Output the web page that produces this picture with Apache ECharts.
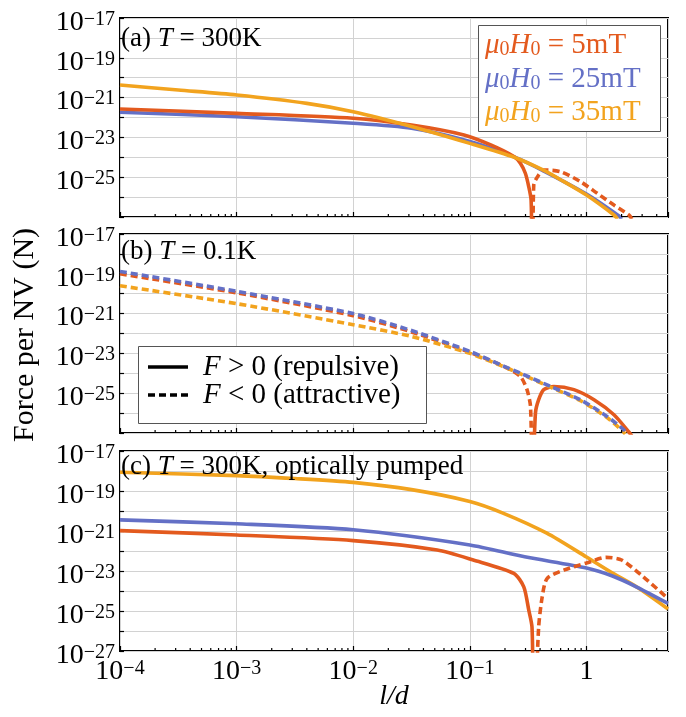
<!DOCTYPE html>
<html><head><meta charset="utf-8">
<script src="https://cdn.jsdelivr.net/npm/echarts@6/dist/echarts.min.js"></script>
<style>html,body{margin:0;padding:0;background:#fff}#c{width:686px;height:717px}#dbg{position:absolute;left:130px;top:140px;font:11px monospace;color:#c00;white-space:pre-wrap;width:540px}</style>
</head><body><div id="c"></div><div id="dbg"></div>
<script>
const dbg = [];
function log(s){ dbg.push(String(s)); document.getElementById('dbg').textContent = dbg.join('\n'); }
window.onerror = function(m, s, l, c){ log('ERR ' + m + ' ' + l + ':' + c); };

// ---------- data, x = l/d, y = force in N ----------
// Panel (a) T = 300K
const a_x_5mT = [1e-4, 1e-3, 1e-2, 0.0316, 0.089, 0.151, 0.24, 0.271, 0.299, 0.32, 0.335, 0.34];
const a_y_5mT = [2.69e-22, 1.62e-22, 9.1e-23, 4.17e-23, 1.32e-23, 4.17e-24, 1.07e-24, 5.0e-25, 1.58e-25, 3.3e-26, 7.1e-27, 1e-29];
const a_x_5mT_neg = [0.347, 0.353, 0.389, 0.43, 0.598, 0.887, 1.236, 1.72, 2.31, 2.45];
const a_y_5mT_neg = [1e-29, 4.07e-26, 1.29e-25, 2.29e-25, 1.9e-25, 6.0e-26, 1.55e-26, 3.98e-27, 1.26e-27, 7.9e-28];
const a_x_25mT = [1e-4, 1e-3, 1e-2, 0.0316, 0.1, 0.24, 0.427, 1, 1.9, 2.0];
const a_y_25mT = [1.82e-22, 1.1e-22, 5.13e-23, 2.88e-23, 6.3e-24, 1.05e-24, 2.09e-25, 1.41e-26, 1.12e-27, 7.9e-28];
const a_x_35mT = [1e-4, 3.16e-4, 1e-3, 4e-3, 1e-2, 0.0316, 0.1, 0.24, 0.427, 0.63, 1, 1.72, 1.85];
const a_y_35mT = [4.27e-21, 2.4e-21, 1.35e-21, 5.13e-22, 1.95e-22, 3.55e-23, 5.01e-24, 1.0e-24, 2.24e-25, 6.31e-26, 1.26e-26, 1.26e-27, 7.9e-28];

// Panel (b) T = 0.1K
const b_x_5mT_neg = [1e-4, 1e-3, 1e-2, 0.0316, 0.1, 0.195, 0.271, 0.309, 0.331, 0.34];
const b_y_5mT_neg = [1e-19, 1.1e-20, 7.9e-22, 1.2e-22, 1.12e-23, 2.24e-24, 6.9e-25, 1.51e-25, 2.19e-26, 1e-29];
const b_x_5mT = [0.352, 0.365, 0.389, 0.43, 0.525, 0.78, 1.16, 1.72, 2.31, 2.45];
const b_y_5mT = [1e-29, 1.0e-26, 4.7e-26, 1.51e-25, 2.19e-25, 1.51e-25, 4.7e-26, 8.3e-27, 1.12e-27, 7e-28];
const b_x_25mT_neg = [1e-4, 1e-3, 1e-2, 0.0316, 0.1, 0.183, 0.271, 0.491, 0.887, 1.5, 2.08, 2.2];
const b_y_25mT_neg = [1.32e-19, 1.32e-20, 1e-21, 1.41e-22, 1.26e-23, 2.7e-24, 1.02e-24, 2.19e-25, 4.68e-26, 6.76e-27, 1.48e-27, 8.9e-28];
const b_x_35mT_neg = [1e-4, 1e-3, 1e-2, 0.0316, 0.1, 0.183, 0.271, 0.491, 0.887, 1.5, 2.0, 2.15];
const b_y_35mT_neg = [2.5e-20, 3.16e-21, 2.75e-22, 7.1e-23, 1.0e-23, 2.5e-24, 9.5e-25, 2.0e-25, 4.2e-26, 6.0e-27, 1.41e-27, 8.9e-28];

// Panel (c) T = 300K, optically pumped
const c_x_5mT = [1e-4, 1e-3, 1e-2, 0.0525, 0.107, 0.238, 0.29, 0.32, 0.341, 0.347];
const c_y_5mT = [1.05e-21, 6.3e-22, 3.3e-22, 1.12e-22, 3.55e-23, 7.6e-24, 1.62e-24, 1.1e-25, 1.58e-26, 1e-29];
const c_x_5mT_neg = [0.37, 0.389, 0.417, 0.459, 0.638, 1, 1.47, 2.0, 3.07, 5];
const c_y_5mT_neg = [1e-29, 1.58e-26, 5e-25, 4.2e-24, 1.1e-23, 2.5e-23, 4.8e-23, 3.55e-23, 5.1e-24, 4.2e-25];
const c_x_25mT = [1e-4, 1e-3, 1e-2, 0.1, 0.295, 1, 1.67, 2.7, 5];
const c_y_25mT = [3.6e-21, 2.3e-21, 1.15e-21, 2.0e-22, 5.1e-23, 1.41e-23, 5.6e-24, 1.58e-24, 2.4e-25];
const c_x_35mT = [1e-4, 1e-3, 3.16e-3, 1e-2, 0.0316, 0.1, 0.192, 0.457, 1, 1.67, 2.7, 5];
const c_y_35mT = [8.7e-19, 5.9e-19, 4.2e-19, 2.7e-19, 1.17e-19, 3.0e-20, 7.9e-21, 7.8e-22, 5.0e-23, 7.9e-24, 1.58e-24, 1.26e-25];

// axes ranges (real units)
const X_MIN = 1e-4, X_MAX = 5;
const Y_MIN = 1e-27, Y_MAX = 1e-17;
const panelTitles = ['(a) {i|T} = 300K', '(b) {i|T} = 0.1K', '(c) {i|T} = 300K, optically pumped'];
const legendFields = ['5mT', '25mT', '35mT'];
const legendSigns = ['{i|F} > 0 (repulsive)', '{i|F} < 0 (attractive)'];
const yTitle = 'Force per NV (N)';
const xTitle = 'l/d';

// Unit change so the log scale works with moderate numbers (labels restore the real exponent)
const X_UNIT_EXP = -4, Y_UNIT_EXP = -27;
const X_UNIT = Math.pow(10, X_UNIT_EXP), Y_UNIT = Math.pow(10, Y_UNIT_EXP);
const sx = v => v / X_UNIT, sy = v => v / Y_UNIT;

// ---------- styling ----------
const FONT = '"Liberation Serif", "Times New Roman", serif';
const RED = '#E35A1E', BLUE = '#6470C6', ORANGE = '#F2A31E';
const colors = [RED, BLUE, ORANGE];

const minorX = [];
for (let e = -4; e <= 0; e++) for (let m = 2; m <= 9; m++) {
  const v = m * Math.pow(10, e);
  if (v < X_MAX) minorX.push([sx(v), sy(Y_MIN)]);
}

const gridBox = [
  {top: 18, height: 199},
  {top: 234, height: 199},
  {top: 451, height: 200}
];
const grids = gridBox.map(g => ({left: 120, right: 18, top: g.top, height: g.height,
  show: true, borderColor: '#000', borderWidth: 2, backgroundColor: 'transparent'}));

const supRich = {
  b: {fontFamily: FONT, fontSize: 28, lineHeight: 26, color: '#000'},
  s: {fontFamily: FONT, fontSize: 20, lineHeight: 6, verticalAlign: 'top', color: '#000'}
};

const xAxes = gridBox.map((g, i) => ({
  type: 'log', gridIndex: i, min: sx(X_MIN), max: sx(X_MAX), interval: 1,
  axisLine: {show: false},
  axisTick: {show: true, inside: true, length: 5, lineStyle: {color: '#000', width: 1.2}},
  splitLine: {show: true, lineStyle: {color: '#d2d2d2', width: 1}},
  axisLabel: {
    show: i === 2, margin: 8, rich: supRich, showMaxLabel: false,
    formatter: v => {
      const l = Math.log10(v), k = Math.round(l);
      if (Math.abs(l - k) > 1e-6) return '';
      const e = k + X_UNIT_EXP;
      if (e === 0) return '{b|1}';
      return '{b|10}{s|' + (e < 0 ? '−' : '') + Math.abs(e) + '}';
    }
  }
}));
const yAxes = gridBox.map((g, i) => ({
  type: 'log', gridIndex: i, min: sy(Y_MIN), max: sy(Y_MAX), interval: 1,
  axisLine: {show: false},
  axisTick: {show: true, inside: true, length: 4, lineStyle: {color: '#000', width: 1.2}},
  splitLine: {show: true, lineStyle: {color: '#d2d2d2', width: 1}},
  axisLabel: {
    show: true, margin: 5, padding: [9, 0, 0, 0], rich: supRich,
    formatter: v => {
      const e = Math.round(Math.log10(v)) + Y_UNIT_EXP;
      if (e % 2 === 0) return '';
      if (i < 2 && e === -27) return '';
      return '{b|10}{s|−' + (-e) + '}';
    }
  }
}));

function pairs(xs, ys) { return xs.map((x, k) => [sx(x), sy(ys[k])]); }
function line(p, xs, ys, color, dashed) {
  return {
    type: 'line', xAxisIndex: p, yAxisIndex: p, data: pairs(xs, ys),
    showSymbol: false, symbol: 'none', smooth: 0.25, clip: true, z: 3,
    lineStyle: {color: color, width: 3.6, type: dashed ? [7, 4] : 'solid', cap: 'butt'},
    silent: true, animation: false
  };
}

const series = [
  line(0, a_x_25mT, a_y_25mT, BLUE, false),
  line(0, a_x_5mT, a_y_5mT, RED, false),
  line(0, a_x_5mT_neg, a_y_5mT_neg, RED, true),
  line(0, a_x_35mT, a_y_35mT, ORANGE, false),

  line(1, b_x_5mT_neg, b_y_5mT_neg, RED, true),
  line(1, b_x_5mT, b_y_5mT, RED, false),
  line(1, b_x_35mT_neg, b_y_35mT_neg, ORANGE, true),
  line(1, b_x_25mT_neg, b_y_25mT_neg, BLUE, true),

  line(2, c_x_35mT, c_y_35mT, ORANGE, false),
  line(2, c_x_25mT, c_y_25mT, BLUE, false),
  line(2, c_x_5mT, c_y_5mT, RED, false),
  line(2, c_x_5mT_neg, c_y_5mT_neg, RED, true)
];
for (let p = 0; p < 3; p++) {
  series.push({
    type: 'custom', xAxisIndex: p, yAxisIndex: p, data: minorX, silent: true, z: 6,
    animation: false,
    renderItem: (params, api) => {
      const pt = api.coord([api.value(0), api.value(1)]);
      return {type: 'line', shape: {x1: pt[0], y1: pt[1], x2: pt[0], y2: pt[1] - 3},
        style: {stroke: '#000', lineWidth: 1.2}};
    }
  });
}

const textRich = {
  i: {fontFamily: FONT, fontStyle: 'italic', fontSize: 27, fill: '#000'},
  n: {fontFamily: FONT, fontSize: 27, fill: '#000'}
};
const titleY = [39, 252, 467];
const graphic = [];
panelTitles.forEach((t, k) => {
  graphic.push({type: 'text', x: 121, y: titleY[k], z: 20, silent: true,
    style: {text: t, fontFamily: FONT, fontSize: 27, fill: '#000', rich: textRich, verticalAlign: 'middle'}});
});
// legend (a)
graphic.push({type: 'rect', z: 20, silent: true, shape: {x: 478.5, y: 25.5, width: 182, height: 106},
  style: {fill: '#fff', stroke: '#555', lineWidth: 1}});
legendFields.forEach((f, k) => {
  const c = colors[k];
  const r = {
    i: {fontFamily: FONT, fontStyle: 'italic', fontSize: 29, fill: c},
    sub: {fontFamily: FONT, fontSize: 20, fill: c, verticalAlign: 'bottom', lineHeight: 18},
    n: {fontFamily: FONT, fontSize: 29, fill: c}
  };
  graphic.push({type: 'text', z: 21, silent: true, x: 485, y: [45, 79, 112][k],
    style: {text: '{i|μ}{sub|0}{i|H}{sub|0}{n| = ' + f + '}', rich: r, fill: c, verticalAlign: 'middle'}});
});
// legend (b)
graphic.push({type: 'rect', z: 20, silent: true, shape: {x: 138.5, y: 346.5, width: 288, height: 77},
  style: {fill: '#fff', stroke: '#555', lineWidth: 1}});
[367, 395].forEach((yy, k) => {
  graphic.push({type: 'line', z: 21, silent: true, shape: {x1: 148, y1: yy, x2: 188, y2: yy},
    style: {stroke: '#000', lineWidth: 3.5, lineDash: k ? [7, 4] : null}});
  const r = {
    i: {fontFamily: FONT, fontStyle: 'italic', fontSize: 29, fill: '#000'},
    n: {fontFamily: FONT, fontSize: 29, fill: '#000'}
  };
  const t = legendSigns[k].replace(/\}([^{]+)$/, '}{n|$1}');
  graphic.push({type: 'text', z: 21, silent: true, x: 203, y: yy,
    style: {text: t, rich: r, fill: '#000', verticalAlign: 'middle'}});
});
// axis titles
graphic.push({type: 'text', z: 21, silent: true, x: 25, y: 335, rotation: Math.PI / 2,
  style: {text: yTitle, fontFamily: FONT, fontSize: 30, fill: '#000', align: 'center', verticalAlign: 'middle'}});
graphic.push({type: 'text', z: 21, silent: true, x: 394, y: 697,
  style: {text: xTitle, fontFamily: FONT, fontStyle: 'italic', fontSize: 28, fill: '#000', align: 'center', verticalAlign: 'middle'}});

const chart = echarts.init(document.getElementById('c'), null, {renderer: 'canvas'});
try {
  chart.setOption({
    animation: false,
    backgroundColor: '#fff',
    textStyle: {fontFamily: FONT},
    grid: grids, xAxis: xAxes, yAxis: yAxes, series: series, graphic: graphic
  });
} catch (err) { log('catch ' + err.stack); }
</script></body></html>
